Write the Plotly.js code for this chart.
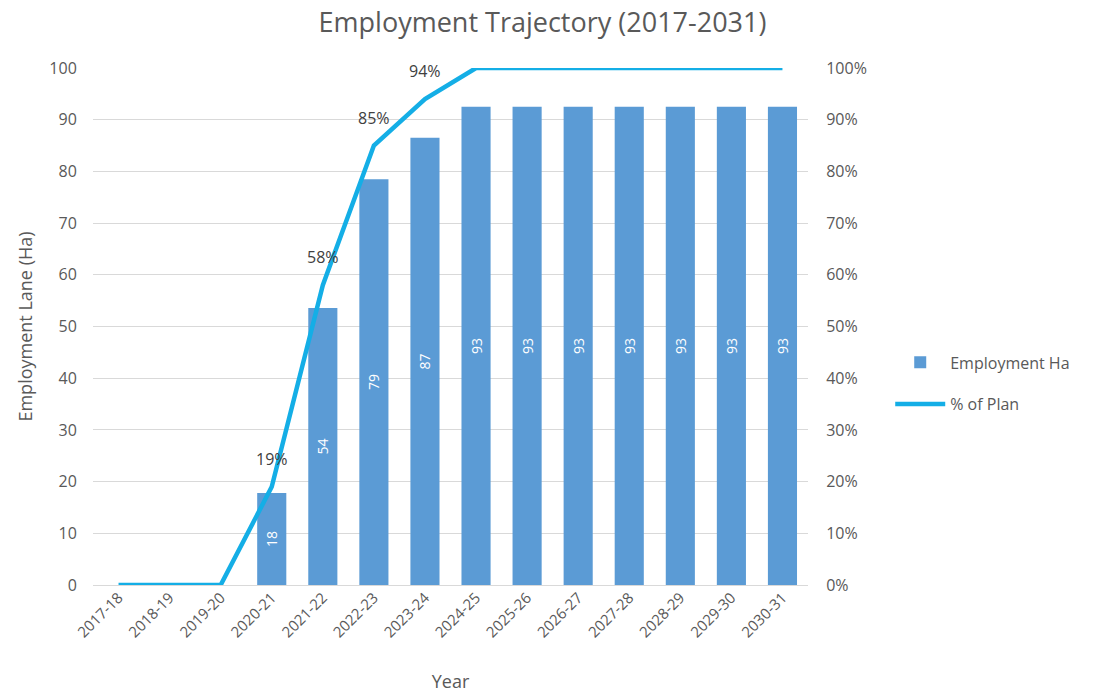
<!DOCTYPE html>
<html>
<head>
<meta charset="utf-8">
<script src="https://cdn.plot.ly/plotly-3.0.1.min.js"></script>
<style>html,body{margin:0;padding:0;background:#fff}#chart{width:1096px;height:695px}</style>
</head>
<body>
<div id="chart"></div>
<script>
const years = ["2017-18","2018-19","2019-20","2020-21","2021-22","2022-23","2023-24","2024-25","2025-26","2026-27","2027-28","2028-29","2029-30","2030-31"];
const employmentHa = [0,0,0,17.8,53.6,78.5,86.5,92.5,92.5,92.5,92.5,92.5,92.5,92.5];
const barLabels = ["","","","18","54","79","87","93","93","93","93","93","93","93"];
const pctOfPlan = [0,0,0,19,58,85,94,100,100,100,100,100,100,100];
const pctLabels = ["","","","19%","58%","85%","94%","","","","","","",""];

const font = "'Open Sans', 'Liberation Sans', sans-serif";
const grey = "#595959";

const traces = [
  {
    type: "bar", name: "Employment Ha", x: years, y: employmentHa, legendgroup: "a",
    marker: {color: "#5B9BD5"},
    text: barLabels, textposition: "inside", insidetextanchor: "middle",
    textangle: -90, textfont: {color: "#ffffff", size: 14, family: font},
    hoverinfo: "x+y"
  },
  {
    type: "scatter", mode: "lines", name: "% of Plan", x: years, y: pctOfPlan, legendgroup: "b",
    yaxis: "y2", line: {color: "#14AEE6", width: 4.5}
  }
];

const annotations = years.map((yr, i) => ({
  x: yr, y: pctOfPlan[i], xref: "x", yref: "y2", text: pctLabels[i],
  showarrow: false, yshift: 28, font: {size: 16, color: "#404040", family: font}
})).filter(a => a.text !== "");

const layout = {
  width: 1096, height: 695,
  margin: {l: 93, r: 288, t: 68, b: 110},
  paper_bgcolor: "#ffffff", plot_bgcolor: "#ffffff",
  font: {family: font, color: grey},
  title: {text: "Employment Trajectory (2017-2031)", x: 0.495, xref: "container", xanchor: "center",
          y: 0.968, yanchor: "middle",
          font: {size: 27, color: grey, family: font}},
  bargap: 0.43,
  showlegend: true,
  legend: {x: 1.115, y: 0.39, xanchor: "left", yanchor: "middle", font: {size: 16, color: grey, family: font},
           traceorder: "grouped", tracegroupgap: 18, itemwidth: 50},
  xaxis: {
    type: "category", tickangle: -45, tickfont: {size: 15, color: grey},
    showgrid: false, showline: false, ticks: "",
    title: {text: "Year", font: {size: 18, color: grey}, standoff: 34}
  },
  yaxis: {
    range: [0, 100], dtick: 10, tickfont: {size: 16, color: grey},
    gridcolor: "#d9d9d9", gridwidth: 1, zeroline: true, zerolinecolor: "#d9d9d9", zerolinewidth: 1,
    showline: false, ticklen: 12, tickcolor: "rgba(0,0,0,0)", ticks: "outside",
    title: {text: "Employment Lane (Ha)", font: {size: 18, color: grey}, standoff: 12}
  },
  yaxis2: {
    overlaying: "y", side: "right", range: [0, 100], dtick: 10, ticksuffix: "%",
    tickfont: {size: 16, color: grey}, showgrid: false, zeroline: false, showline: false,
    ticks: "outside", ticklen: 14, tickcolor: "rgba(0,0,0,0)"
  },
  annotations: annotations
};

Plotly.newPlot("chart", traces, layout, {displayModeBar: false, staticPlot: true});
</script>
</body>
</html>
